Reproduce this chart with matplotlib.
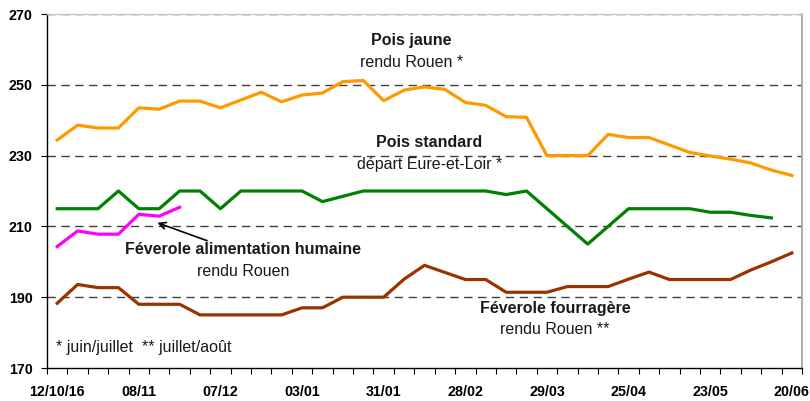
import matplotlib
matplotlib.use("Agg")
import matplotlib.pyplot as plt
import numpy as np

plt.rcParams['font.family'] = ['Liberation Sans', 'DejaVu Sans']

# weekly quotations, 37 weeks from 12/10/16 to 20/06
date_labels = ['12/10/16', '08/11', '07/12', '03/01', '31/01',
               '28/02', '29/03', '25/04', '23/05', '20/06']

pois_jaune = [234.4, 238.6, 237.8, 237.8, 243.5, 243.1, 245.4, 245.4, 243.5,
              245.7, 247.9, 245.2, 247.1, 247.7, 250.9, 251.2, 245.5, 248.5,
              249.4, 248.7, 245.0, 244.2, 241.0, 240.8, 230.0, 230.0, 230.0,
              236.0, 235.1, 235.1, 233.0, 230.9, 229.9, 229.0, 227.9, 225.9,
              224.4]

pois_standard = [215, 215, 215, 220, 215, 215, 220, 220, 215, 220, 220, 220,
                 220, 217, 218.5, 220, 220, 220, 220, 220, 220, 220, 219, 220,
                 215, 210, 205, 210, 215, 215, 215, 215, 214, 214, 213.1,
                 212.4]

feverole_alim = [204.3, 208.7, 207.8, 207.8, 213.4, 212.9, 215.4]

feverole_fourr = [188.3, 193.6, 192.7, 192.7, 188, 188, 188, 185, 185, 185,
                  185, 185, 187, 187, 190, 190, 190, 195.1, 199, 197, 195,
                  195, 191.4, 191.4, 191.4, 193, 193, 193, 195.1, 197.1, 195,
                  195, 195, 195, 197.7, 200, 202.5]

n_weeks = len(pois_jaune)

fig = plt.figure(figsize=(8.10, 4.01), dpi=100)
ax = fig.add_axes([47 / 810, 1 - 368 / 401, (802 - 47) / 810, (368 - 14) / 401])

lw = 2.3
ax.plot(np.arange(len(pois_jaune)), pois_jaune, color='#ff9900', lw=lw, zorder=3)
ax.plot(np.arange(len(pois_standard)), pois_standard, color='#008000', lw=lw, zorder=3)
ax.plot(np.arange(len(feverole_alim)), feverole_alim, color='#ff00ff', lw=lw, zorder=3)
ax.plot(np.arange(len(feverole_fourr)), feverole_fourr, color='#993300', lw=lw, zorder=3)

ax.set_xlim(-0.5, n_weeks - 0.5)
ax.set_ylim(170, 270)

# grid
ax.set_yticks([170, 190, 210, 230, 250, 270])
for v in [190, 210, 230, 250, 270]:
    ax.axhline(v, color='#404040', lw=1.0, dashes=(6, 4), zorder=1)

ax.tick_params(axis='y', direction='out', length=4.5, width=0.8, pad=6,
               labelsize=10.3)
for lab in ax.get_yticklabels():
    lab.set_fontweight('bold')

# category axis: ticks between weeks, labels every 4 weeks
ax.set_xticks(np.arange(0, n_weeks, 4))
ax.set_xticklabels(date_labels, fontsize=10.3, fontweight='bold')
ax.set_xticks(np.arange(-0.5, n_weeks, 1), minor=True)
ax.tick_params(axis='x', which='major', length=0, pad=12.5)
ax.tick_params(axis='x', which='minor', direction='out', length=4, width=0.8)

ax.spines['left'].set_linewidth(1.0)
ax.spines['bottom'].set_linewidth(1.0)
ax.spines['right'].set_color('#a0a0a0')
ax.spines['right'].set_linewidth(1.2)
ax.spines['top'].set_color('#c8c8c8')
ax.spines['top'].set_linewidth(1.0)

# annotations
ax.text(17.35, 262.4, 'Pois jaune', ha='center', va='center',
        fontsize=11.5, fontweight='bold', color='#1a1a1a')
ax.text(17.35, 256.2, 'rendu Rouen *', ha='center', va='center',
        fontsize=11.5, color='#1a1a1a')
ax.text(18.24, 233.6, 'Pois standard', ha='center', va='center',
        fontsize=11.5, fontweight='bold', color='#1a1a1a')
ax.text(18.24, 227.4, 'départ Eure-et-Loir *', ha='center', va='center',
        fontsize=11.5, color='#1a1a1a')
ax.text(9.1, 203.6, 'Féverole alimentation humaine', ha='center', va='center',
        fontsize=11.5, fontweight='bold', color='#1a1a1a')
ax.text(9.1, 197.3, 'rendu Rouen', ha='center', va='center',
        fontsize=11.5, color='#1a1a1a')
ax.text(24.4, 186.8, 'Féverole fourragère', ha='center', va='center',
        fontsize=11.5, fontweight='bold', color='#1a1a1a')
ax.text(24.4, 180.9, 'rendu Rouen **', ha='center', va='center',
        fontsize=11.5, color='#1a1a1a')
ax.text(-0.05, 175.8, '* juin/juillet  ** juillet/août', ha='left',
        va='center', fontsize=11.5, color='#1a1a1a')

ax.annotate('', xy=(4.78, 211.3), xytext=(7.47, 205.7),
            arrowprops=dict(arrowstyle='->', color='black', lw=1.2,
                            mutation_scale=12))

fig.savefig('out.png', dpi=100)
